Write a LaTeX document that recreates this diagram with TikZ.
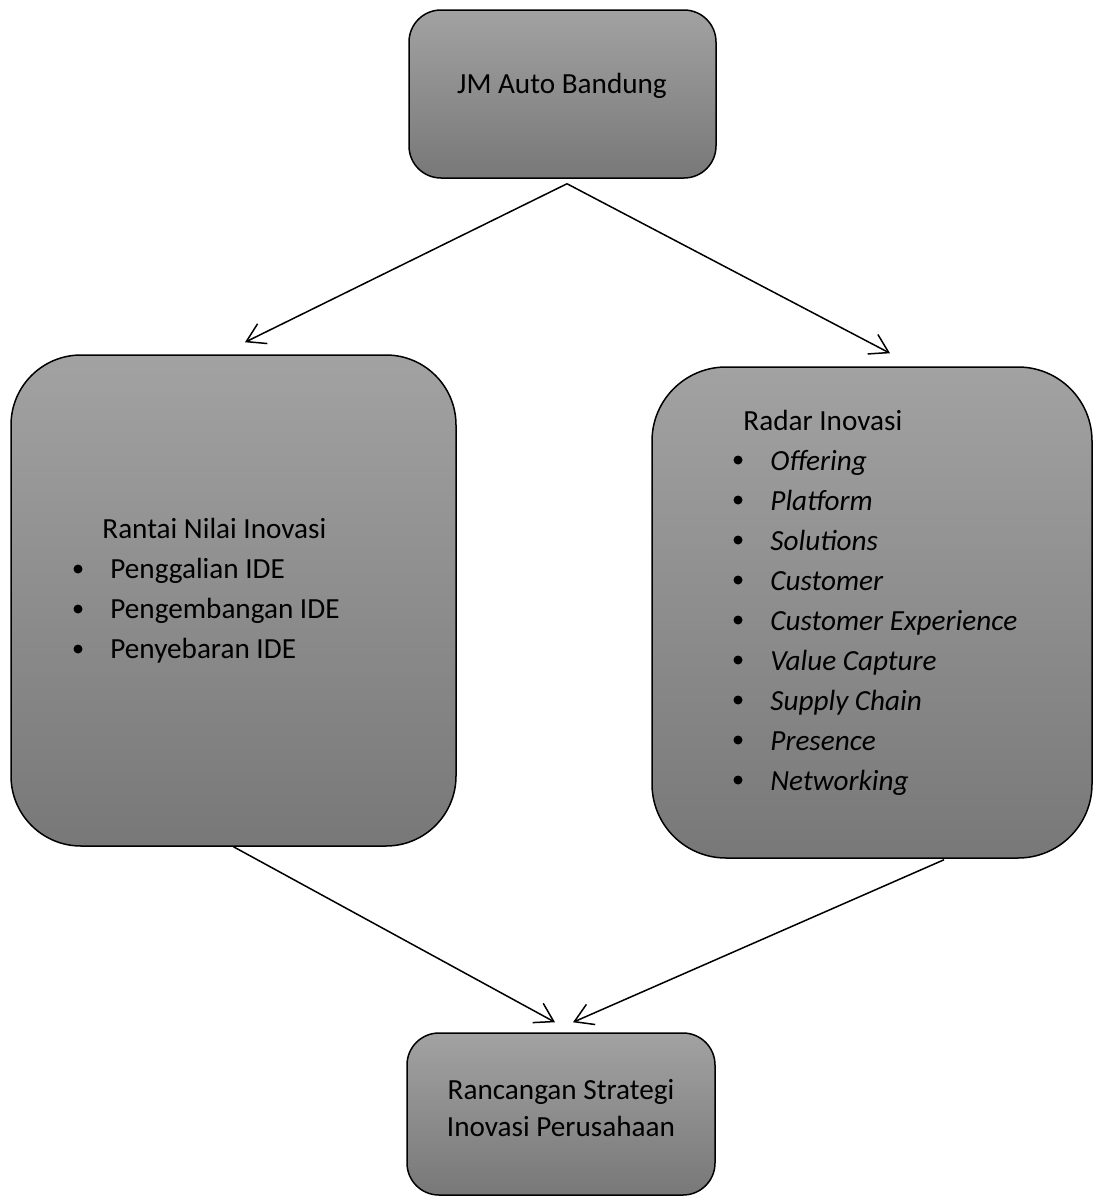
\documentclass[tikz,border=0pt]{standalone}
\usepackage{fontspec}
\setmainfont{Carlito}
\usetikzlibrary{arrows.meta,calc}
\definecolor{boxtop}{RGB}{162,162,162}
\definecolor{boxbot}{RGB}{120,120,120}

\begin{document}
\begin{tikzpicture}[x=0.5pt,y=-0.5pt,
  every node/.style={font=\fontsize{14.6}{20}\selectfont},
  box/.style={draw,line width=.75pt,top color=boxtop,bottom color=boxbot,inner sep=0pt},
  item/.style={anchor=base west,inner sep=0pt},
  dot/.style={circle,fill=black,inner sep=0pt,minimum size=4.5pt},
  arr/.style={line width=.75pt,-{Straight Barb[length=9pt,width=11pt]}}]
\useasboundingbox (0,0) rectangle (1094,1199);
% boxes
\node[box,rounded corners=16pt,minimum width=153.5pt,minimum height=84pt] (jm) at (562.5,94) {};
\node[box,rounded corners=35pt,minimum width=222.5pt,minimum height=245.5pt] (rantai) at (233.5,600.5) {};
\node[box,rounded corners=37pt,minimum width=220pt,minimum height=245.5pt] (radar) at (872,612.5) {};
\node[box,rounded corners=16pt,minimum width=154pt,minimum height=81pt] (strategi) at (561,1114) {};
% texts
\node[anchor=base,inner sep=0pt] (jmtext) at (562,93) {JM Auto Bandung};
\node[anchor=base,inner sep=0pt] (strategi-1) at (561,1099) {Rancangan Strategi};
\node[anchor=base,inner sep=0pt] (strategi-2) at (561,1136) {Inovasi Perusahaan};
\node[item] (rantaititle) at (102,538) {Rantai Nilai Inovasi};
\foreach \lab [count=\i] in {Penggalian IDE,Pengembangan IDE,Penyebaran IDE}{
  \node[dot] (rantaidot-\i) at (78,{529+40*\i}) {};
  \node[item] (rantai-\i) at (110,{538+40*\i}) {\lab};
}
\node[item] (radartitle) at (743,430) {Radar Inovasi};
\foreach \lab [count=\i] in {Offering,Platform,Solutions,Customer,Customer Experience,
  Value Capture,Supply Chain,Presence,Networking}{
  \node[dot] (radardot-\i) at (738,{420+40*\i}) {};
  \node[item] (radar-\i) at (770,{430+40*\i}) {\itshape\lab};
}
% arrows
\draw[arr] ($(jm.south)+(4.5,5)$) -- ($(rantai.north)+(11.5,-12)$);
\draw[arr] ($(jm.south)+(4.5,5)$) -- ($(radar.north)+(18,-13)$);
\draw[arr] (rantai.south) -- ($(strategi.north)+(-6,-10)$);
\draw[arr] ($(radar.south)+(72,1)$) -- ($(strategi.north)+(12,-10)$);
\end{tikzpicture}
\end{document}
